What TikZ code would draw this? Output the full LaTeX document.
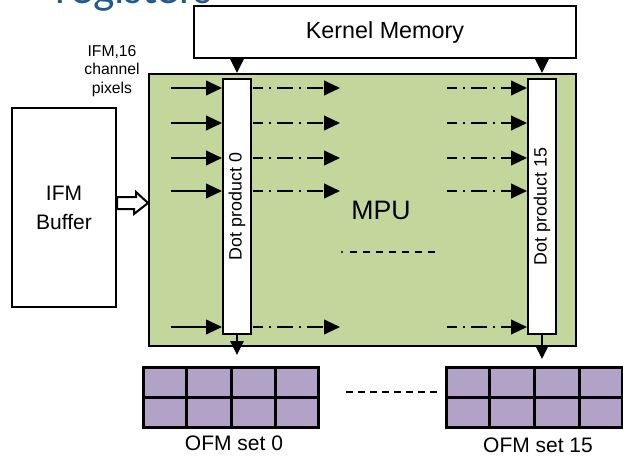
\documentclass[tikz,border=0pt]{standalone}
\usepackage{fontspec}
\setmainfont{Liberation Sans}
\newfontfamily\titlefont{Carlito}
\usetikzlibrary{arrows.meta,calc}

\definecolor{mpugreen}{RGB}{195,214,155}
\definecolor{ofmpurple}{RGB}{179,162,199}
\definecolor{titleblue}{RGB}{33,90,140}

\begin{document}
\begin{tikzpicture}[x=0.75pt,y=-0.75pt,
  box/.style={draw, line width=1.5pt, fill=white, inner sep=0pt},
  dpbar/.style={box, minimum width=21pt, minimum height=191.25pt},
  feed/.style={line width=1.5pt, -{Triangle[length=12pt,width=11pt]}},
  shortfeed/.style={line width=1.5pt, -{Triangle[length=10.5pt,width=10pt]}},
  pass/.style={feed, dash pattern=on 12pt off 4.5pt on 1.5pt off 4.5pt, dash phase=4.5pt},
  ofm/.style={draw, line width=2.25pt, fill=ofmpurple, minimum width=131.5pt, minimum height=45pt, inner sep=0pt},
  lbl/.style={font=\fontsize{15.75}{18}\selectfont},
]
\useasboundingbox (0,0) rectangle (623,456);

% slide title, mostly above the page
\node[anchor=base west, text=titleblue, inner sep=0pt,
      font=\titlefont\fontsize{34}{34}\selectfont] (title) at (55,4) {registers};

% memories and the processing unit
\node[box, minimum width=286.5pt, minimum height=39pt,
      font=\fontsize{17.5}{20}\selectfont] (kernel) at (385,32) {Kernel Memory};
\node[draw, line width=1.5pt, fill=mpugreen, minimum width=320.25pt,
      minimum height=204pt, inner sep=0pt] (mpu) at (362.5,210) {};
\node[font=\fontsize{20}{24}\selectfont] (mpulabel) at (381,210) {MPU};
\node[box, minimum width=78pt, minimum height=149.25pt, align=center,
      font=\fontsize{15.75}{21.75}\selectfont] (ifm) at (64,207.5) {IFM\\Buffer};
\node[align=center, font=\fontsize{11.8}{13.9}\selectfont] (note) at (112,71)
      {IFM,16\\channel\\pixels};

% dot-product columns
\node[dpbar] (dp0) at (237,206.5) {};
\node[rotate=90, font=\fontsize{13.4}{15}\selectfont] (dp0txt) at (dp0) {Dot product 0};
\node[dpbar] (dp15) at (542,206.5) {};
\node[rotate=90, font=\fontsize{13.4}{15}\selectfont] (dp15txt) at (dp15) {Dot product 15};

% hollow arrow from the IFM buffer into the MPU
\draw[line width=1.5pt, fill=white, line join=miter]
  (ifm.east |- 0,197) -- ++(19,0) -- ++(0,-5) -- (mpu.west |- 0,203)
  -- ++(-14,11) -- ++(0,-5) -- (ifm.east |- 0,209) -- cycle;

% kernel weights into each column
\draw[shortfeed] (kernel.south -| dp0) -- (mpu.north -| dp0);
\draw[shortfeed] (kernel.south -| dp15) -- (mpu.north -| dp15);

% pixel rows
\foreach \y [count=\i] in {88,123,158,191,327} {
  \coordinate (in\i) at (171,\y);
  \coordinate (pa\i) at (253,\y);
  \coordinate (pb\i) at (340,\y);
  \coordinate (qa\i) at (447,\y);
  \draw[feed] (in\i) -- (dp0.west |- in\i);
  \draw[pass] (pa\i) -- (pb\i);
  \draw[pass] (qa\i) -- (dp15.west |- qa\i);
}

% more columns in between
\fill (342,252) circle (0.9pt);
\draw[line width=1.2pt, dash pattern=on 5.25pt off 4.5pt] (350,252) -- (441,252);

% output feature maps
\node[ofm] (ofm0) at (231,397) {};
\node[ofm] (ofm15) at (534.5,397.5) {};
\foreach \g in {ofm0,ofm15} {
  \draw[line width=2.25pt] (\g.west) -- (\g.east);
  \foreach \f in {0.25,0.5,0.75}
    \draw[line width=2.25pt] ($(\g.north west)!\f!(\g.north east)$)
      -- ($(\g.south west)!\f!(\g.south east)$);
}
\coordinate (o0) at (237,355);
\coordinate (o15) at (542,359);
\draw[shortfeed] (dp0.south) -- (o0);
\draw[shortfeed] (dp15.south) -- (o15);

\draw[line width=1.2pt, dash pattern=on 5.25pt off 3.75pt] (346,392) -- (438,392);

\node[lbl] (ofm0lbl) at (234,443) {OFM set 0};
\node[lbl] (ofm15lbl) at (538,445) {OFM set 15};
\end{tikzpicture}
\end{document}
